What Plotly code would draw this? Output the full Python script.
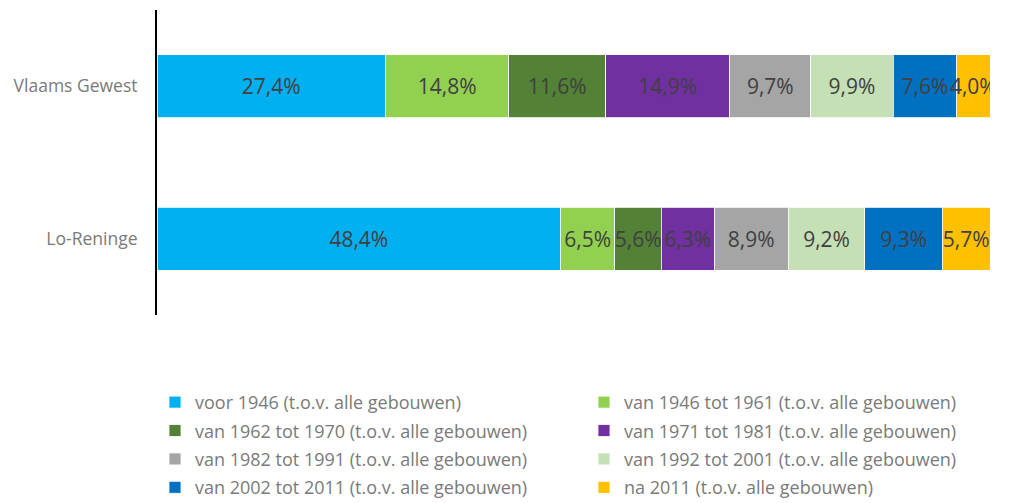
import plotly.graph_objects as go

categories = ["Vlaams Gewest", "Lo-Reninge"]
series_names = [
    "voor 1946 (t.o.v. alle gebouwen)",
    "van 1946 tot 1961 (t.o.v. alle gebouwen)",
    "van 1962 tot 1970 (t.o.v. alle gebouwen)",
    "van 1971 tot 1981 (t.o.v. alle gebouwen)",
    "van 1982 tot 1991 (t.o.v. alle gebouwen)",
    "van 1992 tot 2001 (t.o.v. alle gebouwen)",
    "van 2002 tot 2011 (t.o.v. alle gebouwen)",
    "na 2011 (t.o.v. alle gebouwen)",
]
vlaams_gewest = [27.4, 14.8, 11.6, 14.9, 9.7, 9.9, 7.6, 4.0]
lo_reninge = [48.4, 6.5, 5.6, 6.3, 8.9, 9.2, 9.3, 5.7]
colors = ["#00B0F0", "#92D050", "#538135", "#7030A0", "#A5A5A5", "#C5E0B4", "#0070C0", "#FFC000"]

FONT = "Open Sans"
LABEL_GRAY = "#7a7a7a"

fig = go.Figure()
for i, name in enumerate(series_names):
    vals = [vlaams_gewest[i], lo_reninge[i]]
    fig.add_trace(go.Bar(
        y=categories,
        x=vals,
        name=name,
        orientation="h",
        legend="legend" if i % 2 == 0 else "legend2",
        legendgroup=f"g{i}",
        marker=dict(color=colors[i], line=dict(color="rgba(255,255,255,0.8)", width=1)),
        text=[f"{v:.1f}%".replace(".", ",") for v in vals],
        textposition="inside",
        insidetextanchor="middle",
        textangle=0,
        constraintext="none",
        textfont=dict(family=FONT, size=21, color="#404040"),
        hoverinfo="skip",
    ))

legend_common = dict(
    orientation="v",
    y=-0.226,
    yanchor="top",
    xanchor="left",
    tracegroupgap=2,
    traceorder="grouped",
    font=dict(family=FONT, size=18, color=LABEL_GRAY),
    itemclick=False,
    bgcolor="rgba(0,0,0,0)",
)

fig.update_layout(
    barmode="stack",
    bargap=0.59,
    width=1006,
    height=495,
    margin=dict(l=149, r=24, t=2, b=188, autoexpand=False),
    plot_bgcolor="white",
    paper_bgcolor="white",
    font=dict(family=FONT, color=LABEL_GRAY),
    xaxis=dict(range=[0, sum(vlaams_gewest)], visible=False, fixedrange=True),
    yaxis=dict(
        autorange="reversed",
        showline=True,
        linecolor="black",
        linewidth=2,
        ticks="",
        ticklabelstandoff=14,
        tickfont=dict(family=FONT, size=17.5, color=LABEL_GRAY),
        showgrid=False,
        zeroline=False,
    ),
    legend=dict(x=-0.0024, **legend_common),
    legend2=dict(x=0.5126, **legend_common),
    showlegend=True,
)

fig.write_html("out.html")
